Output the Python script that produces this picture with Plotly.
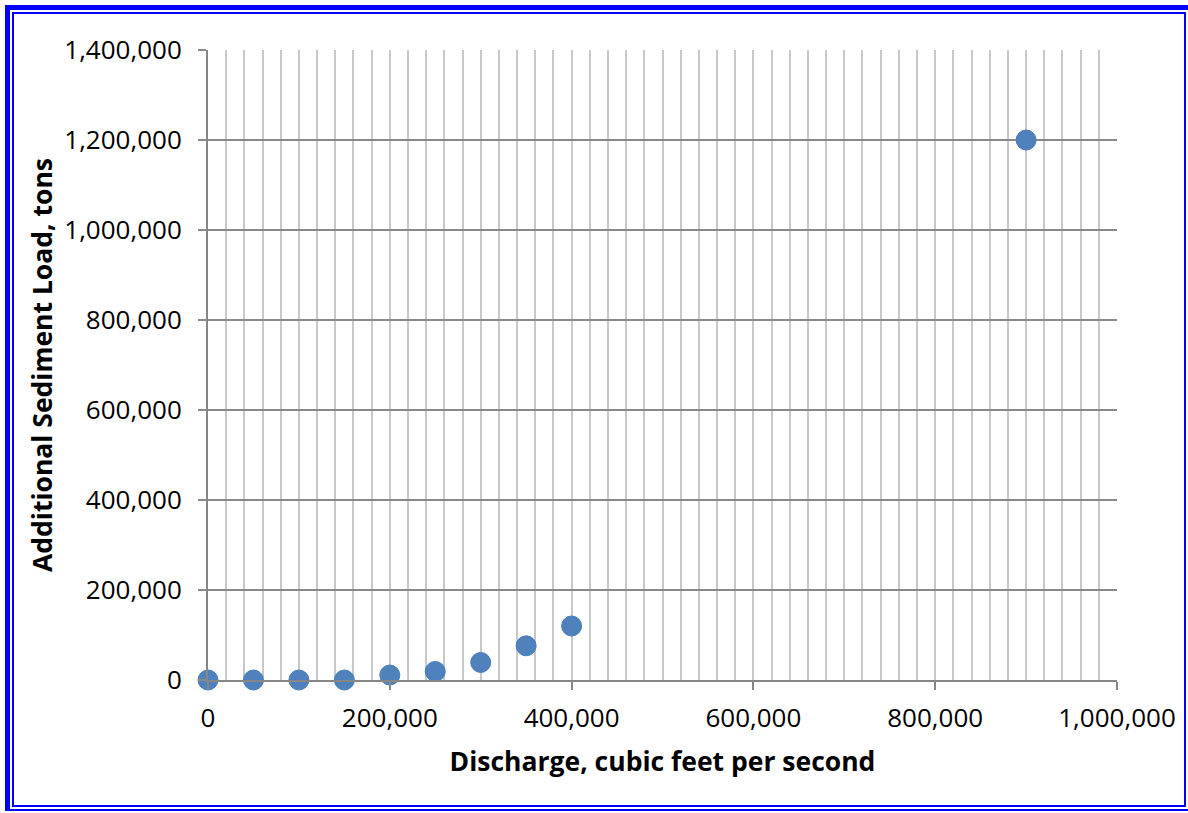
import plotly.graph_objects as go

# Data
discharge_cfs = [0, 50000, 100000, 150000, 200000, 250000, 300000, 350000, 400000, 900000]
sediment_tons = [0, 0, 0, 0, 11000, 19000, 39000, 76000, 120000, 1200000]

x_title = "Discharge, cubic feet per second"
y_title = "Additional Sediment Load, tons"

W, H = 1188, 813
L, R, T, B = 208, 1117, 50, 680

fig = go.Figure()
fig.add_trace(go.Scatter(
    x=discharge_cfs, y=sediment_tons, mode="markers",
    marker=dict(size=20, color="#4F81BD", line=dict(color="#4A7EBB", width=1)),
    showlegend=False, cliponaxis=False,
))

font_family = "Open Sans, Liberation Sans, sans-serif"

fig.update_layout(
    width=W, height=H,
    margin=dict(l=L, r=W - R, t=T, b=H - B, pad=0),
    paper_bgcolor="white", plot_bgcolor="white",
    font=dict(family=font_family, color="black", size=26),
    xaxis=dict(
        range=[0, 1000000], dtick=200000, tick0=0, tickformat=",",
        showline=True, linecolor="#868686", linewidth=2,
        ticks="outside", ticklen=8, tickcolor="#868686", tickwidth=2,
        ticklabelstandoff=6,
        showgrid=True, gridcolor="#c8c8c8", gridwidth=1.5,
        minor=dict(dtick=20000, showgrid=True, gridcolor="#c8c8c8", gridwidth=1.5, ticks=""),
        zeroline=False,
        tickfont=dict(size=26),
        title=dict(text="<b>" + x_title + "</b>", font=dict(size=26.5), standoff=18),
    ),
    yaxis=dict(
        range=[0, 1400000], dtick=200000, tick0=0, tickformat=",",
        showline=True, linecolor="#868686", linewidth=2,
        ticks="outside", ticklen=8, tickcolor="#898989", tickwidth=2,
        ticklabelstandoff=11,
        showgrid=True, gridcolor="#898989", gridwidth=2,
        zeroline=False,
        tickfont=dict(size=26),
        title=dict(text="<b>" + y_title + "</b>", font=dict(size=26.5), standoff=4),
    ),
)

# Blue double border drawn in pixel coords converted to paper coords
def px2paper_x(px):
    return (px - L) / (R - L)

def px2paper_y(py):
    return (B - py) / (B - T)

blue = "#0000FF"
edges = [
    (5, 5, 10, 811),      # outer left thick
    (5, 5, 1188, 10),     # outer top thick
    (5, 809, 1188, 811),  # outer bottom
    (12, 12, 14, 807),    # inner left
    (12, 12, 1186, 14),   # inner top
    (1184, 12, 1186, 807),# inner right
    (12, 805, 1186, 807), # inner bottom
]
for x0, y0, x1, y1 in edges:
    fig.add_shape(type="rect", xref="paper", yref="paper",
                  x0=px2paper_x(x0), x1=px2paper_x(x1),
                  y0=px2paper_y(y0), y1=px2paper_y(y1),
                  fillcolor=blue, line=dict(width=0), layer="above")

fig.write_html(
    "out.html",
    config={"displayModeBar": False},
    post_script="document.body.style.margin='0';document.documentElement.style.overflow='hidden';",
)
